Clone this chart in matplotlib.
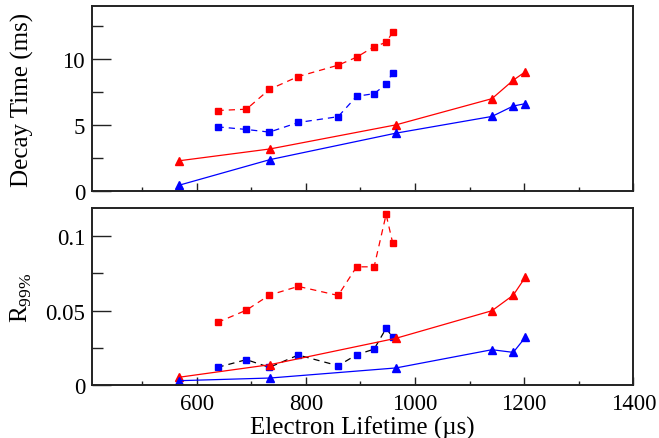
import numpy as np
import matplotlib
matplotlib.use('Agg')
import matplotlib.pyplot as plt

plt.rcParams['font.family'] = ['Liberation Serif', 'DejaVu Serif']
plt.rcParams['mathtext.fontset'] = 'custom'
plt.rcParams['mathtext.rm'] = 'Liberation Serif'

# electron lifetimes (us)
x_tri = [567, 734, 965, 1141, 1180, 1202]
x_sq = [638, 691, 733, 786, 859, 893, 925, 947, 959]

# decay time (ms)
decay_red_sq = [6.1, 6.2, 7.7, 8.68, 9.54, 10.15, 10.95, 11.27, 12.04]
decay_blue_sq = [4.86, 4.66, 4.46, 5.19, 5.63, 7.18, 7.38, 8.09, 8.98]
decay_red_tri = [2.28, 3.18, 5.01, 7.0, 8.4, 9.04]
decay_blue_tri = [0.42, 2.37, 4.38, 5.65, 6.44, 6.62]

# R99%
r_red_sq = [0.042, 0.0503, 0.0604, 0.0663, 0.0602, 0.0795, 0.0795, 0.1148, 0.0957]
r_blue_sq = [0.0117, 0.0169, 0.0117, 0.0200, 0.0128, 0.0202, 0.0240, 0.0380, 0.0321]
r_red_tri = [0.0050, 0.0135, 0.0313, 0.0499, 0.0604, 0.0724]
r_blue_tri = [0.0027, 0.0045, 0.0113, 0.0236, 0.0218, 0.0319]

fig = plt.figure(figsize=(6.59, 4.39), dpi=100)
ax1 = fig.add_axes([0.1396, 0.563, 0.8214, 0.42])
ax2 = fig.add_axes([0.1396, 0.1214, 0.8214, 0.4016])

lw = 0.9
ms_sq = 4.2
ms_tri = 5.2
dash = (0, (5, 4))

ax1.plot(x_sq, decay_red_sq, color='red', ls=dash, lw=lw, marker='s', ms=ms_sq)
ax1.plot(x_sq, decay_blue_sq, color='blue', ls=dash, lw=lw, marker='s', ms=ms_sq)
ax1.plot(x_tri, decay_red_tri, color='red', ls='-', lw=lw, marker='^', ms=ms_tri)
ax1.plot(x_tri, decay_blue_tri, color='blue', ls='-', lw=lw, marker='^', ms=ms_tri)

ax2.plot(x_sq, r_red_sq, color='red', ls=dash, lw=lw, marker='s', ms=ms_sq)
ax2.plot(x_sq, r_blue_sq, color='black', ls=dash, lw=lw, marker='s', ms=ms_sq,
         mfc='blue', mec='blue')
ax2.plot(x_tri, r_red_tri, color='red', ls='-', lw=lw, marker='^', ms=ms_tri)
ax2.plot(x_tri, r_blue_tri, color='blue', ls='-', lw=lw, marker='^', ms=ms_tri)

for ax in (ax1, ax2):
    ax.set_xlim(408, 1400)
    ax.set_xticks(np.arange(600, 1401, 200))
    ax.set_xticks(np.arange(500, 1401, 100), minor=True)
    for s in ax.spines.values():
        s.set_linewidth(1.4)
        s.set_color('#222222')
    ax.tick_params(axis='both', which='both', direction='in', top=False, right=False,
                   labelsize=16.5, width=1.0, color='#222222')
    ax.tick_params(axis='x', which='major', length=6, pad=6)
    ax.tick_params(axis='x', which='minor', length=3)
    ax.tick_params(axis='y', which='major', length=14, pad=5)
    ax.tick_params(axis='y', which='minor', length=8)

ax1.set_ylim(0, 14)
ax1.set_yticks([0, 5, 10])
ax1.set_yticks([2.5, 7.5, 12.5], minor=True)
ax1.set_yticklabels(['0', '5', '10'])
ax1.tick_params(axis='x', labelbottom=False)
ax1.set_ylabel('Decay Time (ms)', fontsize=18)
ax1.yaxis.set_label_coords(-0.108, 0.5)

ax2.set_ylim(0, 0.1189)
ax2.set_yticks([0, 0.05, 0.1])
ax2.set_yticklabels(['0', '0.05', '0.1'])
ax2.set_yticks([0.025, 0.075], minor=True)
ax2.set_ylabel(r'R$_{\mathregular{99\%}}$', fontsize=18)
ax2.yaxis.set_label_coords(-0.108, 0.5)
ax2.set_xlabel(u'Electron Lifetime (\u00b5s)', fontsize=18, labelpad=1)

fig.savefig('out.png', dpi=100)
